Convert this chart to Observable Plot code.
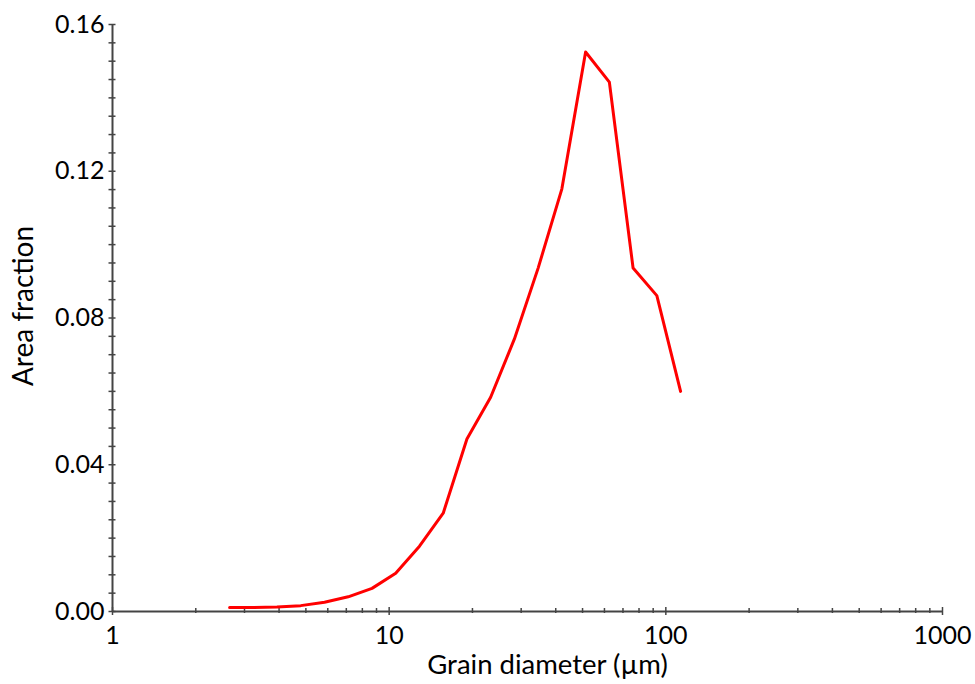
<!DOCTYPE html>
<html>
<head>
<meta charset="utf-8">
<script src="https://cdn.jsdelivr.net/npm/d3@7"></script>
<script src="https://cdn.jsdelivr.net/npm/@observablehq/plot@0.6"></script>
<style>
  html, body { margin: 0; padding: 0; background: white; }
</style>
</head>
<body>
<div id="chart"></div>
<script>
const diameters = [2.65, 3.23, 3.93, 4.79, 5.84, 7.11, 8.67, 10.56, 12.87, 15.68, 19.10, 23.27, 28.36, 34.55, 42.10, 51.29, 62.50, 76.15, 92.79, 113.06];
const areaFractions = [0.0011, 0.0011, 0.0012, 0.0016, 0.0025, 0.0040, 0.0063, 0.0104, 0.0178, 0.0268, 0.0470, 0.0584, 0.0743, 0.0936, 0.1152, 0.1525, 0.1443, 0.0936, 0.0861, 0.0600];
const xMajorTicks = [1, 10, 100, 1000];
const xMinorTicks = [2, 3, 4, 5, 6, 7, 8, 9, 20, 30, 40, 50, 60, 70, 80, 90, 200, 300, 400, 500, 600, 700, 800, 900];
const yMajorTicks = [0, 0.04, 0.08, 0.12, 0.16];
const yAllTicks = [0, 0.005, 0.01, 0.015, 0.02, 0.025, 0.03, 0.035, 0.04, 0.045, 0.05, 0.055, 0.06, 0.065, 0.07, 0.075, 0.08, 0.085, 0.09, 0.095, 0.1, 0.105, 0.11, 0.115, 0.12, 0.125, 0.13, 0.135, 0.14, 0.145, 0.15, 0.155, 0.16];
const xLabel = "Grain diameter (µm)";
const yLabel = "Area fraction";

const data = diameters.map((d, i) => ({x: d, y: areaFractions[i]}));
const axisColor = "#444";

const chart = Plot.plot({
  width: 975,
  height: 684,
  marginTop: 24,
  marginBottom: 73,
  marginLeft: 112,
  marginRight: 33,
  style: {fontFamily: "Lato, 'Open Sans', sans-serif", fontSize: "25px", color: "black", background: "white"},
  x: {type: "log", domain: [1, 1000]},
  y: {domain: [0, 0.16]},
  marks: [
    Plot.ruleY([0], {stroke: axisColor, strokeWidth: 2}),
    Plot.ruleX([1], {y1: 0, y2: 0.16, stroke: axisColor, strokeWidth: 2}),
    Plot.ruleX(xMajorTicks, {x: d => d, y1: 0, y2: 0, insetTop: -4, insetBottom: -4, stroke: axisColor, strokeWidth: 1.5}),
    Plot.ruleX(xMinorTicks, {x: d => d, y1: 0, y2: 0, insetTop: -3, insetBottom: -2, stroke: axisColor, strokeWidth: 1.5}),
    Plot.ruleY(yAllTicks, {y: d => d, x1: 1, x2: 1, insetLeft: -3.5, insetRight: -3.5, stroke: axisColor, strokeWidth: 1.5}),
    Plot.axisX({ticks: xMajorTicks, tickSize: 0, tickPadding: 15, tickFormat: d => String(d), label: null}),
    Plot.axisY({ticks: yMajorTicks, tickSize: 0, tickPadding: 8, tickFormat: d3.format(".2f"), label: null}),
    Plot.text([xLabel], {frameAnchor: "bottom", dx: 20, dy: 54, text: d => d, fontSize: 27.5, lineAnchor: "middle", textAnchor: "middle", fill: "black"}),
    Plot.text([yLabel], {frameAnchor: "left", dx: -88, dy: -12, rotate: -90, text: d => d, fontSize: 28, lineAnchor: "middle", textAnchor: "middle", fill: "black"}),
    Plot.line(data, {x: "x", y: "y", stroke: "#ff0000", strokeWidth: 3})
  ]
});
document.getElementById("chart").appendChild(chart);
</script>
</body>
</html>
